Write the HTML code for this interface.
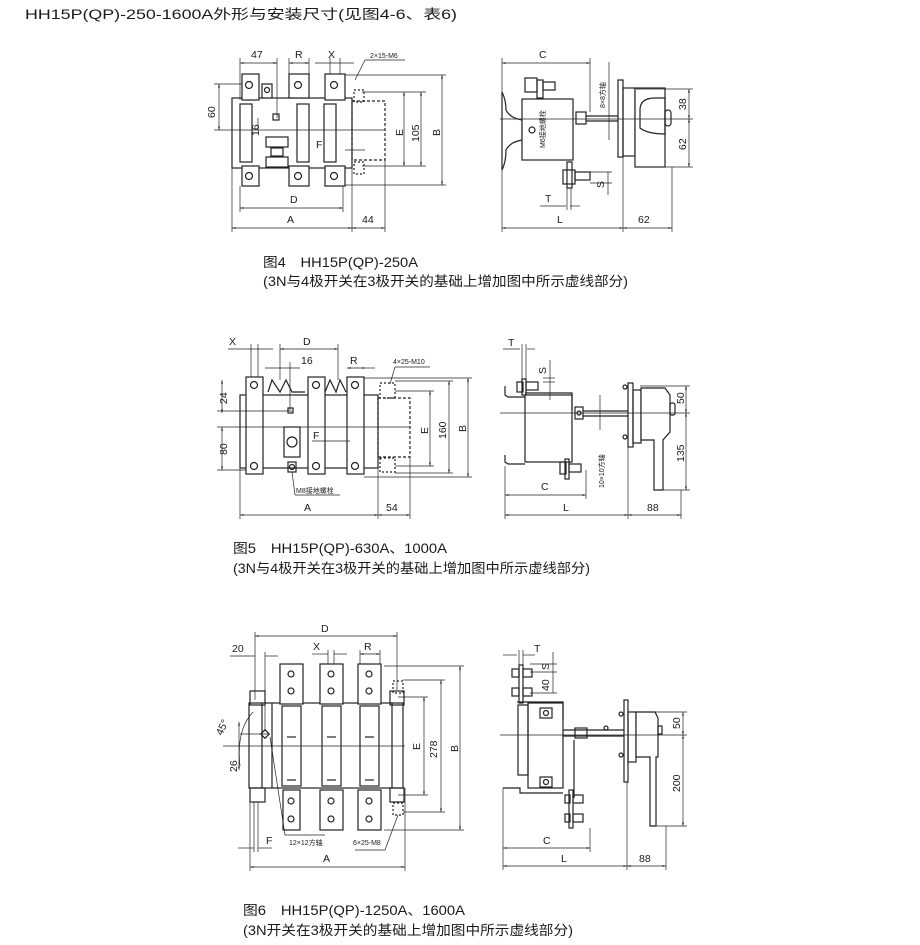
<!DOCTYPE html>
<html><head><meta charset="utf-8"><style>
html,body{margin:0;padding:0;background:#fff;width:920px;height:945px;overflow:hidden}
svg{display:block}
text{font-family:"Liberation Sans","Noto Sans CJK SC",sans-serif;fill:#1a1a1a}
.c{font-size:13.5px}
.d{font-size:10.5px}
.s{font-size:7px}
</style></head><body>
<svg width="920" height="945" viewBox="0 0 920 945" xmlns="http://www.w3.org/2000/svg">
<defs>
<marker id="a" viewBox="0 0 10 10" refX="10" refY="5" markerWidth="5" markerHeight="5" orient="auto-start-reverse"><path d="M0,2L10,5L0,8z" fill="#333"/></marker>
</defs>
<text class="c" x="25" y="19" textLength="432" lengthAdjust="spacingAndGlyphs">HH15P(QP)-250-1600A外形与安装尺寸(见图4-6、表6)</text>

<g stroke="#222" stroke-width="1.2" fill="none">
<rect x="232" y="98" width="120" height="70" fill="#fff"/>
<rect x="240" y="104" width="12" height="58"/>
<rect x="297" y="104" width="12" height="58"/>
<rect x="324" y="104" width="12" height="58"/>
<rect x="242" y="74" width="17" height="26" fill="#fff"/><circle cx="249" cy="85" r="3.5"/>
<rect x="262" y="84" width="10" height="14" fill="#fff"/><circle cx="267" cy="90" r="2.5"/>
<rect x="289" y="74" width="20" height="24" fill="#fff"/><circle cx="298" cy="85" r="3.5"/>
<rect x="325" y="74" width="20" height="26" fill="#fff"/><circle cx="334" cy="85" r="3.5"/>
<rect x="242" y="166" width="17" height="20" fill="#fff"/><circle cx="249" cy="176" r="3.5"/>
<rect x="289" y="166" width="20" height="20" fill="#fff"/><circle cx="298" cy="176" r="3.5"/>
<rect x="325" y="166" width="20" height="20" fill="#fff"/><circle cx="334" cy="176" r="3.5"/>
<rect x="266" y="137" width="22" height="10"/><rect x="266" y="157" width="22" height="10"/><rect x="271" y="148" width="12" height="8"/>
<rect x="273" y="114" width="6" height="6"/>
<rect x="352" y="101" width="33" height="59" stroke-dasharray="3,2"/>
<rect x="354" y="90" width="10" height="12" stroke-dasharray="2,2"/><rect x="354" y="162" width="10" height="12" stroke-dasharray="2,2"/>
<g stroke-width="0.7">
<line x1="240" y1="63" x2="277" y2="63" marker-start="url(#a)" marker-end="url(#a)"/>
<line x1="240" y1="58" x2="240" y2="100"/><line x1="277" y1="58" x2="277" y2="118"/>
<line x1="289" y1="63" x2="309" y2="63" marker-start="url(#a)" marker-end="url(#a)"/>
<line x1="289" y1="58" x2="289" y2="74"/><line x1="309" y1="58" x2="309" y2="74"/>
<line x1="315" y1="63" x2="354" y2="63"/><line x1="330" y1="58" x2="330" y2="74"/><line x1="340" y1="58" x2="340" y2="74"/>
<line x1="355" y1="80" x2="365" y2="60"/><line x1="365" y1="60" x2="405" y2="60"/>
<line x1="219" y1="84" x2="219" y2="130" marker-start="url(#a)" marker-end="url(#a)"/>
<line x1="214" y1="84" x2="242" y2="84"/><line x1="214" y1="130" x2="385" y2="130"/>
<line x1="258" y1="118" x2="258" y2="130"/>
<line x1="345" y1="150" x2="365" y2="150"/>
<line x1="404" y1="92" x2="404" y2="166" marker-start="url(#a)" marker-end="url(#a)"/>
<line x1="421" y1="92" x2="421" y2="166" marker-start="url(#a)" marker-end="url(#a)"/>
<line x1="362" y1="92" x2="426" y2="92"/><line x1="362" y1="166" x2="426" y2="166"/>
<line x1="442" y1="75" x2="442" y2="185" marker-start="url(#a)" marker-end="url(#a)"/>
<line x1="345" y1="75" x2="446" y2="75"/><line x1="345" y1="185" x2="446" y2="185"/>
<line x1="232" y1="168" x2="232" y2="232"/><line x1="352" y1="168" x2="352" y2="232"/><line x1="385" y1="160" x2="385" y2="232"/>
<line x1="240" y1="186" x2="240" y2="212"/><line x1="343" y1="186" x2="343" y2="212"/>
<line x1="240" y1="208" x2="343" y2="208" marker-start="url(#a)" marker-end="url(#a)"/>
<line x1="232" y1="228" x2="352" y2="228" marker-start="url(#a)" marker-end="url(#a)"/>
<line x1="352" y1="228" x2="385" y2="228" marker-start="url(#a)" marker-end="url(#a)"/>
</g>

<path d="M502,92 Q506,100 506,110 Q510,118 522,120 L522,140 Q510,142 506,150 Q506,162 502,170 Z" fill="#fff"/>
<rect x="522" y="99" width="51" height="61" fill="#fff"/>
<rect x="525" y="78" width="12" height="14"/><rect x="537" y="80" width="6" height="18"/><rect x="543" y="82" width="12" height="8"/>
<rect x="563" y="170" width="12" height="14"/><rect x="567" y="162" width="5" height="26"/><rect x="575" y="172" width="15" height="8"/>
<circle cx="532" cy="130" r="3"/>
<rect x="576" y="112" width="10" height="12"/>
<line x1="586" y1="116" x2="620" y2="116"/><line x1="586" y1="121" x2="620" y2="121"/>
<rect x="618" y="80" width="5" height="77" fill="#fff"/>
<rect x="623" y="88" width="12" height="68"/>
<rect x="635" y="88" width="30" height="79" fill="#fff"/>
<path d="M640,110 Q640,98 655,98 L665,98 L665,134 Q648,134 640,128 Z"/>
<rect x="665" y="110" width="6" height="16" rx="3"/>
<g stroke-width="0.7">
<line x1="502" y1="63" x2="590" y2="63" marker-start="url(#a)" marker-end="url(#a)"/>
<line x1="502" y1="58" x2="502" y2="232"/><line x1="590" y1="58" x2="590" y2="112"/>
<line x1="609" y1="62" x2="609" y2="140"/>
<line x1="689" y1="89" x2="689" y2="119" marker-start="url(#a)" marker-end="url(#a)"/>
<line x1="689" y1="119" x2="689" y2="167" marker-start="url(#a)" marker-end="url(#a)"/>
<line x1="636" y1="89" x2="693" y2="89"/><line x1="500" y1="119" x2="693" y2="119"/><line x1="665" y1="167" x2="693" y2="167"/>
<line x1="608" y1="172" x2="608" y2="195"/><line x1="590" y1="172" x2="612" y2="172"/><line x1="590" y1="183" x2="612" y2="183"/>
<line x1="540" y1="206" x2="566" y2="206"/><line x1="570" y1="206" x2="580" y2="206"/>
<line x1="567" y1="188" x2="567" y2="210"/><line x1="571" y1="188" x2="571" y2="210"/>
<line x1="502" y1="228" x2="623" y2="228" marker-start="url(#a)" marker-end="url(#a)"/>
<line x1="623" y1="228" x2="672" y2="228" marker-start="url(#a)" marker-end="url(#a)"/>
<line x1="623" y1="157" x2="623" y2="232"/><line x1="672" y1="167" x2="672" y2="232"/>
</g>

<rect x="240" y="395" width="138" height="73" fill="#fff"/>
<path d="M268,392 L272,380 L280,392 L286,380 L292,392 L305,392" />
<path d="M325,392 L330,380 L336,392 L340,380 L346,392"/>
<rect x="246" y="377" width="17" height="97" fill="#fff"/><circle cx="254" cy="385" r="3.5"/><circle cx="254" cy="466" r="3.5"/>
<rect x="308" y="377" width="17" height="97" fill="#fff"/><circle cx="316" cy="385" r="3.5"/><circle cx="316" cy="466" r="3.5"/>
<rect x="347" y="377" width="17" height="97" fill="#fff"/><circle cx="355" cy="385" r="3.5"/><circle cx="355" cy="466" r="3.5"/>
<rect x="284" y="427" width="16" height="30"/><circle cx="292" cy="442" r="5"/>
<rect x="288" y="408" width="5" height="5"/>
<rect x="288" y="462" width="8" height="10"/><circle cx="292" cy="467" r="2.5"/>
<rect x="378" y="398" width="32" height="59" stroke-dasharray="3,2"/>
<rect x="380" y="383" width="15" height="15" stroke-dasharray="2,2"/><rect x="380" y="458" width="15" height="14" stroke-dasharray="2,2"/>
<g stroke-width="0.7">
<line x1="228" y1="349" x2="273" y2="349"/><line x1="251" y1="344" x2="251" y2="377"/><line x1="258" y1="344" x2="258" y2="377"/>
<line x1="280" y1="349" x2="338" y2="349" marker-start="url(#a)" marker-end="url(#a)"/>
<line x1="280" y1="344" x2="280" y2="380"/><line x1="338" y1="344" x2="338" y2="380"/>
<line x1="265" y1="368" x2="300" y2="368"/><line x1="290" y1="362" x2="290" y2="410"/>
<line x1="347" y1="368" x2="366" y2="368" marker-start="url(#a)" marker-end="url(#a)"/><line x1="366" y1="368" x2="375" y2="368"/>
<line x1="390" y1="384" x2="395" y2="367"/><line x1="395" y1="367" x2="430" y2="367"/>
<line x1="222" y1="380" x2="222" y2="413" marker-start="url(#a)" marker-end="url(#a)"/>
<line x1="222" y1="427" x2="222" y2="470" marker-start="url(#a)" marker-end="url(#a)"/>
<line x1="217" y1="411" x2="292" y2="411"/><line x1="217" y1="427" x2="410" y2="427"/><line x1="217" y1="470" x2="246" y2="470"/>
<line x1="312" y1="441" x2="350" y2="441"/>
<line x1="430" y1="391" x2="430" y2="466" marker-start="url(#a)" marker-end="url(#a)"/>
<line x1="449" y1="381" x2="449" y2="473" marker-start="url(#a)" marker-end="url(#a)"/>
<line x1="468" y1="378" x2="468" y2="477" marker-start="url(#a)" marker-end="url(#a)"/>
<line x1="395" y1="391" x2="434" y2="391"/><line x1="395" y1="466" x2="434" y2="466"/>
<line x1="395" y1="381" x2="453" y2="381"/><line x1="395" y1="473" x2="453" y2="473"/>
<line x1="364" y1="378" x2="472" y2="378"/><line x1="364" y1="477" x2="472" y2="477"/>
<line x1="292" y1="472" x2="295" y2="495"/><line x1="295" y1="495" x2="340" y2="495"/>
<line x1="240" y1="468" x2="240" y2="519"/><line x1="378" y1="468" x2="378" y2="519"/><line x1="410" y1="457" x2="410" y2="519"/>
<line x1="240" y1="515" x2="378" y2="515" marker-start="url(#a)" marker-end="url(#a)"/>
<line x1="378" y1="515" x2="410" y2="515" marker-start="url(#a)" marker-end="url(#a)"/>
</g>

<rect x="525" y="395" width="47" height="67" fill="#fff"/>
<path d="M505,386 L505,395 L508,397 L525,397"/><path d="M505,455 L505,462 L508,464 L525,464"/>
<path d="M525,393 L572,393 L572,410"/>
<rect x="522" y="379" width="4" height="16"/><rect x="517" y="382" width="6" height="10"/><rect x="526" y="382" width="12" height="8"/>
<rect x="565" y="459" width="4" height="20"/><rect x="560" y="462" width="6" height="12"/><rect x="569" y="464" width="12" height="8"/>
<rect x="575" y="407" width="8" height="12"/><circle cx="579" cy="413" r="2"/>
<line x1="583" y1="411" x2="628" y2="411"/><line x1="583" y1="416" x2="628" y2="416"/>
<rect x="628" y="383" width="5" height="64" fill="#fff"/>
<circle cx="625" cy="387" r="2"/><circle cx="625" cy="437" r="2"/>
<rect x="633" y="390" width="8" height="53"/>
<path d="M641,388 L665,388 L670,395 L670,432 L663,440 L663,490 L654,490 L654,440 L641,440 Z" fill="#fff"/>
<rect x="670" y="403" width="5" height="12" rx="2"/>
<g stroke-width="0.7">
<line x1="503" y1="349" x2="520" y2="349"/><line x1="527" y1="349" x2="535" y2="349"/>
<line x1="522" y1="344" x2="522" y2="380"/><line x1="526" y1="344" x2="526" y2="380"/>
<line x1="550" y1="360" x2="550" y2="400"/><line x1="543" y1="378" x2="555" y2="378"/><line x1="543" y1="382" x2="555" y2="382"/>
<line x1="600" y1="395" x2="600" y2="430"/>
<line x1="686" y1="386" x2="686" y2="413" marker-start="url(#a)" marker-end="url(#a)"/>
<line x1="686" y1="413" x2="686" y2="490" marker-start="url(#a)" marker-end="url(#a)"/>
<line x1="640" y1="386" x2="690" y2="386"/><line x1="500" y1="413" x2="690" y2="413"/><line x1="663" y1="490" x2="690" y2="490"/>
<line x1="505" y1="466" x2="505" y2="519"/><line x1="586" y1="470" x2="586" y2="499"/><line x1="628" y1="447" x2="628" y2="519"/><line x1="681" y1="490" x2="681" y2="519"/>
<line x1="505" y1="495" x2="586" y2="495" marker-start="url(#a)" marker-end="url(#a)"/>
<line x1="505" y1="515" x2="628" y2="515" marker-start="url(#a)" marker-end="url(#a)"/>
<line x1="628" y1="515" x2="681" y2="515" marker-start="url(#a)" marker-end="url(#a)"/>
</g>

<rect x="249" y="703" width="154" height="85" fill="#fff"/>
<line x1="262" y1="703" x2="262" y2="788"/><line x1="272" y1="703" x2="272" y2="788"/><line x1="392" y1="703" x2="392" y2="788"/>
<rect x="250" y="691" width="15" height="14"/><rect x="390" y="691" width="14" height="14"/>
<rect x="250" y="788" width="15" height="14"/><rect x="390" y="788" width="14" height="14"/>
<rect x="280" y="664" width="23" height="40" fill="#fff"/><circle cx="291" cy="674" r="3"/><circle cx="291" cy="691" r="3"/>
<rect x="320" y="664" width="23" height="40" fill="#fff"/><circle cx="331" cy="674" r="3"/><circle cx="331" cy="691" r="3"/>
<rect x="358" y="664" width="23" height="40" fill="#fff"/><circle cx="369" cy="674" r="3"/><circle cx="369" cy="691" r="3"/>
<rect x="282" y="706" width="19" height="80"/><rect x="322" y="706" width="19" height="80"/><rect x="360" y="706" width="19" height="80"/>
<line x1="287" y1="737" x2="296" y2="737"/><line x1="327" y1="737" x2="336" y2="737"/><line x1="365" y1="737" x2="374" y2="737"/>
<line x1="287" y1="780" x2="296" y2="780"/><line x1="327" y1="780" x2="336" y2="780"/><line x1="365" y1="780" x2="374" y2="780"/>
<rect x="283" y="790" width="17" height="40" fill="#fff"/><circle cx="291" cy="801" r="3"/><circle cx="291" cy="819" r="3"/>
<rect x="320" y="790" width="23" height="40" fill="#fff"/><circle cx="331" cy="801" r="3"/><circle cx="331" cy="819" r="3"/>
<rect x="358" y="790" width="23" height="40" fill="#fff"/><circle cx="369" cy="801" r="3"/><circle cx="369" cy="819" r="3"/>
<rect x="262" y="731" width="6" height="6" transform="rotate(45 265 734)"/>
<rect x="393" y="681" width="10" height="12" stroke-dasharray="2,2"/><rect x="393" y="803" width="10" height="12" stroke-dasharray="2,2"/>
<g stroke-width="0.7">
<line x1="255" y1="636" x2="397" y2="636" marker-start="url(#a)" marker-end="url(#a)"/>
<line x1="255" y1="632" x2="255" y2="700"/><line x1="397" y1="632" x2="397" y2="690"/>
<line x1="230" y1="656" x2="255" y2="656"/><line x1="265" y1="656" x2="278" y2="656"/><line x1="265" y1="652" x2="265" y2="731"/>
<line x1="312" y1="654" x2="328" y2="654"/><line x1="334" y1="654" x2="347" y2="654"/><line x1="328" y1="650" x2="328" y2="664"/><line x1="334" y1="650" x2="334" y2="664"/>
<line x1="360" y1="654" x2="380" y2="654" marker-start="url(#a)" marker-end="url(#a)"/><line x1="360" y1="650" x2="360" y2="664"/><line x1="380" y1="650" x2="380" y2="664"/>
<path d="M240,766 Q236,730 253,712"/>
<line x1="240" y1="734" x2="268" y2="734"/><line x1="223" y1="746" x2="405" y2="746"/>
<line x1="239" y1="722" x2="239" y2="770" marker-start="url(#a)" marker-end="url(#a)"/>
<line x1="424" y1="697" x2="424" y2="795" marker-start="url(#a)" marker-end="url(#a)"/>
<line x1="441" y1="680" x2="441" y2="812" marker-start="url(#a)" marker-end="url(#a)"/>
<line x1="460" y1="666" x2="460" y2="830" marker-start="url(#a)" marker-end="url(#a)"/>
<line x1="398" y1="697" x2="428" y2="697"/><line x1="398" y1="795" x2="428" y2="795"/>
<line x1="403" y1="680" x2="445" y2="680"/><line x1="403" y1="812" x2="445" y2="812"/>
<line x1="384" y1="666" x2="464" y2="666"/><line x1="384" y1="830" x2="464" y2="830"/>
<path d="M270,737 L285,835 L300,835"/><line x1="300" y1="835" x2="325" y2="835"/>
<path d="M398,815 L385,850 L355,850"/>
<line x1="250" y1="788" x2="250" y2="871"/><line x1="405" y1="788" x2="405" y2="871"/>
<line x1="254" y1="802" x2="254" y2="852"/><line x1="258" y1="802" x2="258" y2="852"/>
<line x1="238" y1="848" x2="254" y2="848"/><line x1="258" y1="848" x2="272" y2="848"/>
<line x1="250" y1="867" x2="405" y2="867" marker-start="url(#a)" marker-end="url(#a)"/>
</g>

<rect x="528" y="703" width="35" height="85" fill="#fff"/>
<rect x="518" y="705" width="10" height="70"/>
<path d="M517,702 L563,702 L563,720"/><path d="M503,788 L520,788 L520,793 L563,793"/>
<rect x="540" y="708" width="12" height="10"/><circle cx="546" cy="713" r="2.5"/>
<rect x="540" y="777" width="12" height="10"/><circle cx="546" cy="782" r="2.5"/>
<rect x="519" y="665" width="4" height="38"/><rect x="512" y="669" width="7" height="8"/><rect x="512" y="688" width="7" height="8"/><rect x="523" y="669" width="9" height="8"/><rect x="523" y="688" width="9" height="8"/>
<rect x="569" y="790" width="4" height="38"/><rect x="565" y="795" width="5" height="8"/><rect x="565" y="814" width="5" height="8"/><rect x="573" y="795" width="10" height="8"/><rect x="573" y="814" width="10" height="8"/>
<path d="M574,740 L574,798"/>
<line x1="563" y1="730" x2="624" y2="730"/><line x1="563" y1="736" x2="624" y2="736"/>
<rect x="575" y="728" width="12" height="10"/><circle cx="606" cy="728" r="2"/>
<rect x="624" y="700" width="4" height="82" fill="#fff"/>
<circle cx="621" cy="714" r="2"/><circle cx="621" cy="755" r="2"/>
<rect x="628" y="712" width="8" height="50"/>
<path d="M636,712 L655,712 L658,718 L658,757 L656,757 L656,826 L650,826 L650,757 L636,757 Z" fill="#fff"/>
<rect x="658" y="726" width="4" height="8"/>
<g stroke-width="0.7">
<line x1="503" y1="655" x2="517" y2="655"/><line x1="523" y1="655" x2="535" y2="655"/>
<line x1="519" y1="650" x2="519" y2="665"/><line x1="523" y1="650" x2="523" y2="665"/>
<line x1="553" y1="652" x2="553" y2="693"/><line x1="530" y1="664" x2="557" y2="664"/><line x1="530" y1="672" x2="557" y2="672"/><line x1="530" y1="693" x2="557" y2="693"/>
<line x1="683" y1="712" x2="683" y2="735" marker-start="url(#a)" marker-end="url(#a)"/>
<line x1="683" y1="735" x2="683" y2="826" marker-start="url(#a)" marker-end="url(#a)"/>
<line x1="636" y1="712" x2="687" y2="712"/><line x1="500" y1="735" x2="687" y2="735"/><line x1="656" y1="826" x2="687" y2="826"/>
<line x1="503" y1="788" x2="503" y2="870"/><line x1="590" y1="828" x2="590" y2="852"/><line x1="627" y1="782" x2="627" y2="870"/><line x1="666" y1="826" x2="666" y2="870"/>
<line x1="503" y1="848" x2="590" y2="848" marker-start="url(#a)" marker-end="url(#a)"/>
<line x1="503" y1="866" x2="627" y2="866" marker-start="url(#a)" marker-end="url(#a)"/>
<line x1="627" y1="866" x2="666" y2="866" marker-start="url(#a)" marker-end="url(#a)"/>
</g>
</g>

<g class="d">
<text x="251" y="58">47</text><text x="295" y="58">R</text><text x="328" y="58">X</text>
<text class="s" x="370" y="58">2×15-M6</text>
<text x="316" y="148">F</text><text x="290" y="203">D</text><text x="287" y="223">A</text><text x="362" y="223">44</text>
<text transform="translate(215,118) rotate(-90)">60</text>
<text transform="translate(259,136) rotate(-90)">16</text>
<text transform="translate(403,136) rotate(-90)">E</text>
<text transform="translate(419,142) rotate(-90)">105</text>
<text transform="translate(440,136) rotate(-90)">B</text>
<text x="539" y="58">C</text>
<text transform="translate(605,108) rotate(-90)" class="s">8×8方轴</text>
<text transform="translate(545,148) rotate(-90)" class="s">M6接地螺栓</text>
<text transform="translate(686,110) rotate(-90)">38</text>
<text transform="translate(686,150) rotate(-90)">62</text>
<text transform="translate(604,188) rotate(-90)">S</text>
<text x="545" y="202">T</text><text x="557" y="223">L</text><text x="638" y="223">62</text>
</g>
<text class="c" x="263" y="267" textLength="155" lengthAdjust="spacingAndGlyphs">图4　HH15P(QP)-250A</text>
<text class="c" x="263" y="286" textLength="365" lengthAdjust="spacingAndGlyphs">(3N与4极开关在3极开关的基础上增加图中所示虚线部分)</text>

<g class="d">
<text x="229" y="345">X</text><text x="303" y="345">D</text><text x="301" y="364">16</text><text x="350" y="364">R</text>
<text class="s" x="393" y="364">4×25-M10</text>
<text x="313" y="439">F</text>
<text class="s" x="296" y="493">M8接地螺栓</text>
<text x="304" y="511">A</text><text x="386" y="511">54</text>
<text transform="translate(227,404) rotate(-90)">24</text>
<text transform="translate(227,455) rotate(-90)">80</text>
<text transform="translate(428,434) rotate(-90)">E</text>
<text transform="translate(446,439) rotate(-90)">160</text>
<text transform="translate(466,432) rotate(-90)">B</text>
<text x="508" y="346">T</text>
<text transform="translate(546,374) rotate(-90)">S</text>
<text transform="translate(604,488) rotate(-90)" class="s">10×10方轴</text>
<text transform="translate(684,404) rotate(-90)">50</text>
<text transform="translate(684,462) rotate(-90)">135</text>
<text x="541" y="490">C</text><text x="563" y="511">L</text><text x="647" y="511">88</text>
</g>
<text class="c" x="233" y="553" textLength="214" lengthAdjust="spacingAndGlyphs">图5　HH15P(QP)-630A、1000A</text>
<text class="c" x="233" y="573" textLength="357" lengthAdjust="spacingAndGlyphs">(3N与4极开关在3极开关的基础上增加图中所示虚线部分)</text>

<g class="d">
<text x="321" y="632">D</text><text x="232" y="652">20</text><text x="313" y="650">X</text><text x="364" y="650">R</text>
<text transform="translate(222,736) rotate(-65)">45°</text>
<text transform="translate(237,772) rotate(-90)">26</text>
<text transform="translate(420,750) rotate(-90)">E</text>
<text transform="translate(437,758) rotate(-90)">278</text>
<text transform="translate(458,752) rotate(-90)">B</text>
<text x="266" y="844">F</text>
<text class="s" x="289" y="845">12×12方轴</text><text class="s" x="353" y="845">6×25-M8</text>
<text x="323" y="862">A</text>
<text x="534" y="652">T</text>
<text transform="translate(549,670) rotate(-90)">S</text>
<text transform="translate(549,691) rotate(-90)">40</text>
<text transform="translate(680,729) rotate(-90)">50</text>
<text transform="translate(680,792) rotate(-90)">200</text>
<text x="543" y="844">C</text><text x="561" y="862">L</text><text x="639" y="862">88</text>
</g>
<text class="c" x="243" y="915" textLength="222" lengthAdjust="spacingAndGlyphs">图6　HH15P(QP)-1250A、1600A</text>
<text class="c" x="243" y="935" textLength="330" lengthAdjust="spacingAndGlyphs">(3N开关在3极开关的基础上增加图中所示虚线部分)</text>
</svg>
</body></html>
